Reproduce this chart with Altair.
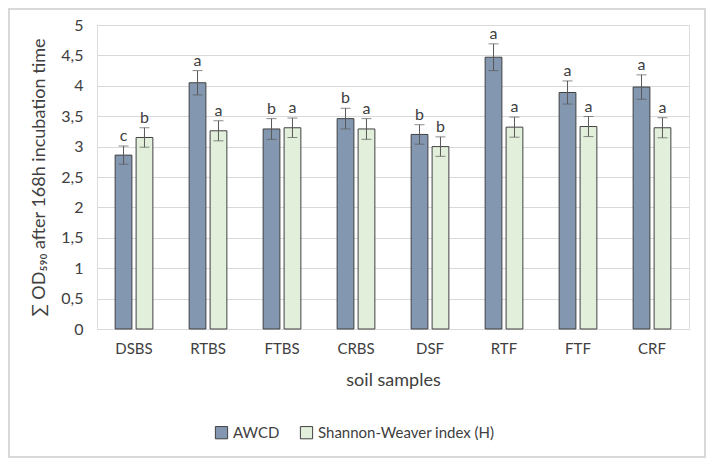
import altair as alt
import pandas as pd

samples = ["DSBS", "RTBS", "FTBS", "CRBS", "DSF", "RTF", "FTF", "CRF"]
series_names = ["AWCD", "Shannon-Weaver index (H)"]
awcd = [2.86, 4.05, 3.29, 3.46, 3.20, 4.47, 3.89, 3.98]
awcd_err = [0.15, 0.20, 0.17, 0.17, 0.16, 0.22, 0.19, 0.20]
awcd_letters = ["c", "a", "b", "b", "b", "a", "a", "a"]
shannon = [3.15, 3.26, 3.31, 3.29, 3.00, 3.32, 3.33, 3.31]
shannon_err = [0.16, 0.165, 0.16, 0.17, 0.16, 0.165, 0.165, 0.165]
shannon_letters = ["b", "a", "a", "a", "b", "a", "a", "a"]
y_ticks = [0, 0.5, 1, 1.5, 2, 2.5, 3, 3.5, 4, 4.5, 5]

rows = []
for i, s in enumerate(samples):
    rows.append(dict(sample=s, series=series_names[0], value=awcd[i], err=awcd_err[i], letter=awcd_letters[i]))
    rows.append(dict(sample=s, series=series_names[1], value=shannon[i], err=shannon_err[i], letter=shannon_letters[i]))
df = pd.DataFrame(rows)
df["lo"] = df["value"] - df["err"]
df["hi"] = df["value"] + df["err"]

FONT = "Lato"
TXT = "#404040"
colors = ["#8497b0", "#e2efda"]

x = alt.X("sample:N", sort=samples,
          scale=alt.Scale(paddingInner=0.49, paddingOuter=0.245),
          axis=alt.Axis(title="soil samples", labelAngle=0, ticks=False,
                        domainColor="#d9d9d9", labelPadding=12, titlePadding=15,
                        labelFontSize=15, titleFontSize=18, labelColor=TXT,
                        titleColor=TXT, labelFont=FONT, titleFont=FONT,
                        titleFontWeight="normal"))
xoff = alt.XOffset("series:N", sort=series_names, scale=alt.Scale(paddingInner=0.2))

yscale = alt.Scale(domain=[0, 5], nice=False, zero=True)
yaxis = alt.Axis(title="∑ OD₅₉₀ after 168h incubation time", values=y_ticks,
                 labelExpr="replace(toString(datum.value), '.', ',')",
                 labelOverlap=False, domain=False, ticks=False, grid=True,
                 gridColor="#d9d9d9", labelPadding=14, titlePadding=12,
                 labelFontSize=16, titleFontSize=18, labelColor=TXT,
                 titleColor=TXT, labelFont=FONT, titleFont=FONT,
                 titleFontWeight="normal")


def yenc(field):
    return alt.Y(field, scale=yscale, axis=yaxis)


base = alt.Chart(df)

bars = base.mark_bar(stroke="#404040", strokeWidth=1).encode(
    x=x, xOffset=xoff,
    y=yenc("value:Q"),
    color=alt.Color("series:N", sort=series_names,
                    scale=alt.Scale(domain=series_names, range=colors),
                    legend=alt.Legend(title=None, orient="none", direction="horizontal",
                                      legendX=117, legendY=400, symbolType="square",
                                      symbolSize=150, symbolStrokeColor="#404040",
                                      symbolStrokeWidth=1, symbolOpacity=1,
                                      labelFontSize=15, labelFont=FONT, labelLimit=0,
                                      labelColor=TXT, columnPadding=18,
                                      labelOffset=4)),
)

rules = base.mark_rule(color="#595959", strokeWidth=1).encode(
    x=x, xOffset=xoff, y=yenc("lo:Q"), y2="hi:Q")
caps_hi = base.mark_tick(color="#595959", thickness=1, size=10).encode(
    x=x, xOffset=xoff, y=yenc("hi:Q"))
caps_lo = base.mark_tick(color="#595959", thickness=1, size=10).encode(
    x=x, xOffset=xoff, y=yenc("lo:Q"))
letters = base.mark_text(dy=-10, fontSize=16, font=FONT, color=TXT).encode(
    x=x, xOffset=xoff, y=yenc("hi:Q"), text="letter:N")

frame = alt.Chart(pd.DataFrame({"a": [0]})).mark_rect(
    fill=None, stroke="#d9d9d9", strokeWidth=2).encode(
    x=alt.value(-88), x2=alt.value(608), y=alt.value(-16), y2=alt.value(432))

chart = alt.layer(bars, rules, caps_hi, caps_lo, letters, frame).properties(
    width=592, height=304,
    autosize=alt.AutoSizeParams(type="none"),
    padding={"left": 89, "top": 17, "right": 17, "bottom": 129},
).configure_view(stroke=None).configure(background="white")

chart.save("out.html", embed_options={"renderer": "svg", "actions": False})
